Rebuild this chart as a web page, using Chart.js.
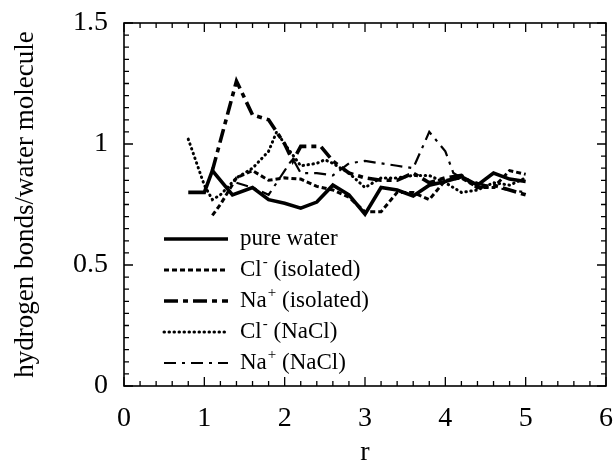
<!DOCTYPE html>
<html>
<head>
<meta charset="utf-8">
<script src="https://cdn.jsdelivr.net/npm/chart.js@4.4.1/dist/chart.umd.min.js"></script>
<style>
  html, body { margin: 0; padding: 0; background: #fff; }
  #wrap { width: 614px; height: 460px; }
</style>
</head>
<body>
<div id="wrap"><canvas id="chart" width="614" height="460"></canvas></div>
<script>
// series
const pureX = [0.8, 1.0, 1.1, 1.35, 1.6, 1.8, 2.0, 2.2, 2.4, 2.6, 2.8, 3.0, 3.2, 3.4, 3.6, 3.8, 4.0, 4.2, 4.4, 4.6, 4.8, 5.0];
const pureY = [0.80, 0.80, 0.89, 0.79, 0.82, 0.77, 0.755, 0.735, 0.76, 0.83, 0.79, 0.71, 0.82, 0.81, 0.785, 0.83, 0.845, 0.865, 0.83, 0.88, 0.855, 0.845];

const clIsoX = [1.1, 1.2, 1.4, 1.6, 1.8, 2.0, 2.2, 2.4, 2.6, 2.8, 3.0, 3.2, 3.4, 3.6, 3.8, 4.0, 4.2, 4.4, 4.6, 4.8, 5.0];
const clIsoY = [0.705, 0.75, 0.86, 0.89, 0.85, 0.86, 0.855, 0.825, 0.81, 0.78, 0.72, 0.72, 0.80, 0.80, 0.77, 0.85, 0.86, 0.82, 0.82, 0.89, 0.875];

const naIsoX = [1.1, 1.4, 1.6, 1.8, 2.0, 2.1, 2.2, 2.45, 2.6, 2.8, 3.0, 3.2, 3.4, 3.6, 3.8, 4.0, 4.2, 4.4, 4.6, 4.8, 5.0];
const naIsoY = [0.89, 1.26, 1.12, 1.10, 1.00, 0.93, 0.99, 0.99, 0.93, 0.88, 0.86, 0.85, 0.85, 0.88, 0.84, 0.86, 0.87, 0.82, 0.83, 0.81, 0.79];

const clNaclX = [0.8, 1.0, 1.1, 1.2, 1.4, 1.6, 1.8, 1.9, 2.0, 2.2, 2.4, 2.5, 2.6, 2.8, 3.0, 3.2, 3.4, 3.6, 3.8, 4.0, 4.2, 4.4, 4.6, 4.8, 5.0];
const clNaclY = [1.02, 0.83, 0.77, 0.79, 0.86, 0.90, 0.97, 1.05, 1.00, 0.91, 0.92, 0.935, 0.92, 0.88, 0.82, 0.86, 0.86, 0.87, 0.87, 0.84, 0.80, 0.81, 0.84, 0.83, 0.86];

const naNaclX = [1.4, 1.6, 1.8, 2.0, 2.1, 2.2, 2.4, 2.6, 2.8, 3.0, 3.2, 3.4, 3.6, 3.8, 4.0, 4.1, 4.2, 4.4, 4.6, 4.8, 5.0];
const naNaclY = [0.84, 0.82, 0.79, 0.89, 0.94, 0.88, 0.88, 0.87, 0.92, 0.93, 0.92, 0.91, 0.90, 1.05, 0.97, 0.88, 0.86, 0.84, 0.82, 0.81, 0.80];

// legend labels: [text, superscript, rest]
const labels = [
    ['pure water', '', ''],
    ['Cl', '-', ' (isolated)'],
    ['Na', '+', ' (isolated)'],
    ['Cl', '-', ' (NaCl)'],
    ['Na', '+', ' (NaCl)']
];

const xTicks = [0, 1, 2, 3, 4, 5, 6];
const yTicks = [0, 0.5, 1, 1.5];

const SERIF = '"Liberation Serif", "DejaVu Serif", serif';

function pts(xs, ys) {
    return xs.map((x, i) => ({ x: x, y: ys[i] }));
}

function ds(i, xs, ys, width, dash, cap) {
    return {
        label: labels[i].join(''),
        data: pts(xs, ys),
        borderColor: '#000',
        borderWidth: width,
        borderDash: dash,
        borderCapStyle: cap || 'butt',
        pointRadius: 0,
        tension: 0,
        fill: false
    };
}

// frame with inward ticks on every side
const framePlugin = {
    id: 'frame',
    afterDraw(chart) {
        const ctx = chart.ctx;
        const a = chart.chartArea;
        const xs = chart.scales.x, ys = chart.scales.y;
        ctx.save();
        ctx.strokeStyle = '#000';
        ctx.lineWidth = 1.6;
        ctx.strokeRect(a.left, a.top, a.right - a.left, a.bottom - a.top);
        ctx.lineWidth = 1.3;
        ctx.beginPath();
        for (let k = 0; k <= 30; k++) {
            const px = xs.getPixelForValue(k * 0.2);
            const len = k % 5 === 0 ? 9 : 5;
            ctx.moveTo(px, a.bottom); ctx.lineTo(px, a.bottom - len);
            ctx.moveTo(px, a.top); ctx.lineTo(px, a.top + len);
        }
        for (let k = 0; k <= 30; k++) {
            const py = ys.getPixelForValue(k * 0.05);
            const len = k % 10 === 0 ? 9 : 5;
            ctx.moveTo(a.left, py); ctx.lineTo(a.left + len, py);
            ctx.moveTo(a.right, py); ctx.lineTo(a.right - len, py);
        }
        ctx.stroke();
        ctx.restore();
    }
};

// legend with superscripts, inside the plot
const legendPlugin = {
    id: 'supLegend',
    afterDatasetsDraw(chart) {
        const ctx = chart.ctx;
        const a = chart.chartArea;
        const x0 = a.left + 40, x1 = a.left + 104, tx = a.left + 116;
        ctx.save();
        chart.data.datasets.forEach((d, i) => {
            const y = a.top + 216 + i * 31;
            ctx.strokeStyle = '#000';
            ctx.lineWidth = d.borderWidth;
            ctx.lineCap = d.borderCapStyle;
            ctx.setLineDash(d.borderDash || []);
            ctx.beginPath();
            ctx.moveTo(x0, y); ctx.lineTo(x1, y);
            ctx.stroke();
            ctx.setLineDash([]);
            ctx.fillStyle = '#000';
            ctx.textBaseline = 'middle';
            ctx.font = '23px ' + SERIF;
            const [t, sup, rest] = labels[i];
            let x = tx;
            ctx.fillText(t, x, y);
            x += ctx.measureText(t).width;
            if (sup) {
                ctx.font = '15px ' + SERIF;
                ctx.fillText(sup, x + 1, y - 8);
                x += ctx.measureText(sup).width + 1;
                ctx.font = '23px ' + SERIF;
            }
            ctx.fillText(rest, x, y);
        });
        ctx.restore();
    }
};

new Chart(document.getElementById('chart'), {
    type: 'line',
    data: {
        datasets: [
            ds(0, pureX, pureY, 3.6, []),
            ds(1, clIsoX, clIsoY, 3, [5, 3]),
            ds(2, naIsoX, naIsoY, 3.6, [14, 5, 5, 5]),
            ds(3, clNaclX, clNaclY, 3, [0.5, 4.5], 'round'),
            ds(4, naNaclX, naNaclY, 2.2, [12, 6, 3, 6])
        ]
    },
    options: {
        responsive: false,
        animation: false,
        layout: { padding: { top: 23, right: 8, left: 0, bottom: 0 } },
        plugins: { legend: { display: false }, tooltip: { enabled: false } },
        scales: {
            x: {
                type: 'linear',
                min: 0, max: 6,
                afterFit(s) { s.height = 74; s.paddingLeft = 0; s.paddingRight = 0; },
                afterBuildTicks(s) { s.ticks = xTicks.map(v => ({ value: v })); },
                grid: { display: false, drawTicks: false },
                border: { display: false },
                ticks: { color: '#000', padding: 16, font: { family: SERIF, size: 28 }, callback: v => String(v) },
                title: { display: true, text: 'r', color: '#000', padding: { top: 0, bottom: -9 }, font: { family: SERIF, size: 28 } }
            },
            y: {
                type: 'linear',
                min: 0, max: 1.5,
                afterFit(s) { s.width = 124; s.paddingTop = 0; s.paddingBottom = 0; },
                afterBuildTicks(s) { s.ticks = yTicks.map(v => ({ value: v })); },
                grid: { display: false, drawTicks: false },
                border: { display: false },
                ticks: { color: '#000', padding: 16, font: { family: SERIF, size: 28 }, callback: v => String(v) },
                title: { display: true, text: 'hydrogen bonds/water molecule', color: '#000', padding: { top: 10, bottom: 0 }, font: { family: SERIF, size: 27 } }
            }
        }
    },
    plugins: [framePlugin, legendPlugin]
});
</script>
</body>
</html>
